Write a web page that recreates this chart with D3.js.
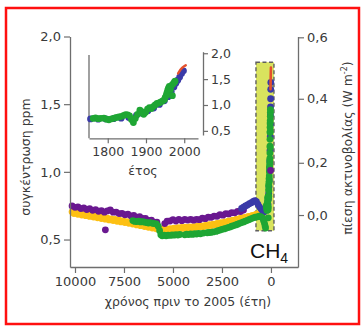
<!DOCTYPE html>
<html>
<head>
<meta charset="utf-8">
<script src="https://cdn.jsdelivr.net/npm/d3@7"></script>
<style>
  html, body { margin: 0; padding: 0; background: #fff; }
  svg { display: block; }
  text { font-family: "DejaVu Sans", Verdana, sans-serif; fill: #3a3a3a; }
</style>
</head>
<body>
<svg id="chart" width="361" height="327"></svg>
<script>
// ---- Data: atmospheric CH4 (ppm). Long record in years before 2005, recent record in calendar years ----
const purpleSeries = [
  [10150,0.748],[10000,0.738],[9850,0.741],[9700,0.729],[9550,0.733],[9400,0.722],[9250,0.728],[9100,0.716],
  [8950,0.721],[8800,0.709],[8650,0.713],[8500,0.702],[8350,0.711],[8200,0.718],[8050,0.702],[7900,0.703],
  [7750,0.692],[7600,0.693],[7450,0.683],[7300,0.687],[7150,0.675],[7000,0.679],[6850,0.666],[6700,0.669],
  [6550,0.656],[6400,0.656],[6250,0.641],[6100,0.644],[5950,0.629],[5820,0.628],[5420,0.618],[5300,0.635],
  [5150,0.637],[5000,0.647],[4850,0.637],[4700,0.648],[4550,0.639],[4400,0.649],[4250,0.644],[4100,0.649],
  [3950,0.643],[3800,0.649],[3650,0.647],[3500,0.658],[3350,0.654],[3200,0.665],[3050,0.664],[2900,0.673],
  [2750,0.672],[2600,0.683],[2450,0.680],[2300,0.691],[2150,0.689],[2000,0.698],[1850,0.697],[1700,0.708],
  [1550,0.707],[1400,0.718]
];
const purpleOutliers = [[8450,0.572],[20,1.01]];

const yellowSeries = [
  [10150,0.705],[10050,0.692],[9950,0.700],[9850,0.686],[9750,0.694],[9650,0.681],[9550,0.689],[9450,0.676],
  [9350,0.684],[9250,0.671],[9150,0.679],[9050,0.666],[8950,0.673],[8850,0.661],[8750,0.668],[8650,0.655],
  [8550,0.663],[8450,0.650],[8350,0.658],[8250,0.645],[8150,0.653],[8050,0.640],[7950,0.648],[7850,0.635],
  [7750,0.643],[7650,0.630],[7550,0.637],[7450,0.625],[7350,0.632],[7250,0.620],[7150,0.627],[7050,0.614],
  [6950,0.621],[6850,0.608],[6750,0.615],[6650,0.602],[6550,0.609],[6450,0.596],[6350,0.603],[6250,0.590],
  [6150,0.597],[6050,0.585],[5950,0.591],[5850,0.579],[5750,0.585],[5650,0.572],[5550,0.578],[5450,0.568],
  [5350,0.576],[5250,0.570],[5150,0.580],[5050,0.574],[4950,0.584],[4850,0.577],[4750,0.587],[4650,0.580],
  [4550,0.589],[4450,0.582],[4350,0.591],[4250,0.584],[4150,0.593],[4050,0.587],[3950,0.596],[3850,0.589],
  [3750,0.598],[3650,0.592],[3550,0.601],[3450,0.595],[3350,0.605],[3250,0.599],[3150,0.609],[3050,0.603],
  [2950,0.614],[2850,0.608],[2750,0.619],[2650,0.614],[2550,0.625],[2450,0.620],[2350,0.631],[2250,0.626],
  [2150,0.637],[2050,0.632],[1950,0.643],[1850,0.639],[1750,0.650],[1650,0.646],[1550,0.657],[1450,0.653],
  [1350,0.664],[1250,0.660],[1150,0.671],[1050,0.668],[950,0.679],[850,0.676],[750,0.687],[650,0.684],
  [550,0.695],[450,0.693]
];

const greenSeries = [
  [7050,0.640],[6950,0.634],[6850,0.633],[6750,0.636],[6650,0.630],[6550,0.632],[6450,0.628],[6350,0.625],
  [6250,0.622],[6150,0.625],[6050,0.620],[5950,0.618],[5850,0.615],[5750,0.598],[5680,0.565],
  [5620,0.535],[5550,0.528],[5450,0.532],[5350,0.527],[5250,0.533],[5150,0.530],[5050,0.535],[4950,0.532],
  [4850,0.536],[4750,0.533],[4650,0.537],[4400,0.535],[4300,0.540],[4200,0.537],[4100,0.542],[4000,0.538],
  [3900,0.543],[3800,0.540],[3700,0.545],[3600,0.542],[3450,0.548],[3250,0.550],[3150,0.552],[3050,0.553],
  [2950,0.556],[2800,0.560],[2700,0.566],[2600,0.570],[2500,0.575],[2400,0.578],[2300,0.583],[2200,0.588],
  [2100,0.592],[2000,0.598],[1900,0.603],[1800,0.608],[1700,0.613],[1600,0.620],[1500,0.625],[1400,0.630],
  [1300,0.636],[1200,0.642],[1100,0.648],[1000,0.655],[900,0.660],[800,0.665],[700,0.668],[600,0.672],
  [500,0.668],[430,0.660],[380,0.640],[330,0.620],[300,0.600],[275,0.585]
];

const blueSeries = [
  [1500,0.730],[1400,0.740],[1300,0.748],[1200,0.755],[1100,0.765],[1000,0.772],[900,0.782],[820,0.788],
  [740,0.780],[660,0.760],[580,0.740],[500,0.725],[420,0.710],[340,0.705]
];

// Recent record, calendar years
const greenRecent = [
  [1762,0.740],[1768,0.752],[1775,0.735],[1782,0.742],[1790,0.748],[1797,0.725],[1803,0.715],[1810,0.732],
  [1817,0.745],[1823,0.760],[1829,0.770],[1836,0.780],[1842,0.800],[1847,0.815],[1852,0.810],[1857,0.790],
  [1862,0.720],[1867,0.660],[1872,0.740],[1878,0.820],[1884,0.900],[1889,0.870],[1894,0.820],[1899,0.860],
  [1904,0.920],[1909,0.950],[1914,0.930],[1919,0.970],[1924,1.000],[1929,1.030],[1934,1.040],[1939,1.060],
  [1944,1.080],[1948,1.100],[1950,1.140],[1953,1.190],[1955,1.240],[1957,1.290],[1959,1.330],[1961,1.360],
  [1964,1.300],[1967,1.380],[1969,1.180],[1971,1.410],[1974,1.440],[1976,1.460]
];
const blueRecent = [
  [1755,0.730],[1775,0.725],[1795,0.730],[1815,0.735],[1835,0.745],[1855,0.760],[1875,0.800],[1890,0.840],
  [1905,0.890],[1920,0.940],[1935,1.010],[1948,1.080],[1958,1.160],[1966,1.260],[1973,1.350],[1978,1.420],
  [1983,1.480],[1988,1.540],[1993,1.610],[1998,1.660]
];
const redRecent = [[1984,1.61],[1990,1.68],[1995,1.72],[2000,1.75],[2004,1.77]];

// Axis ticks
const ageTicks = [10000, 7500, 5000, 2500, 0];
const ppmTicks = [0.5, 1.0, 1.5, 2.0];
const forcingTicks = [0.0, 0.2, 0.4, 0.6];          // W m-2
const forcingPpm = [0.681, 1.067, 1.540, 1.994];     // concentration giving each forcing level
const yearTicks = [1800, 1900, 2000];
const insetPpmTicks = [0.5, 1.0, 1.5, 2.0];

// Industrial-era window, in years before 2005 and ppm
const windowBP = [765, -153];
const windowPpm = [0.565, 1.81];

const colors = {
  purple: "#6a1890",
  yellow: "#fdc013",
  green: "#1fa634",
  blue: "#3a3aa8",
  red: "#e4502c",
  axis: "#6e6e6e"
};

const locale = d3.formatLocale({ decimal: ",", thousands: ".", grouping: [3], currency: ["", ""] });
const fmt1 = locale.format(".1f");
const R = 3.4;

const svg = d3.select("#chart");

// Frame
svg.append("rect")
  .attr("x", 6).attr("y", 8).attr("width", 353).attr("height", 316)
  .attr("fill", "#fff").attr("stroke", "#ff1010").attr("stroke-width", 2.5);

// ---- Main panel ----
const x = d3.scaleLinear().domain([10255, -1380]).range([70, 298]);
const y = d3.scaleLinear().domain([0.297, 2.0]).range([267, 36.5]);
const toBP = d => [2005 - d[0], d[1]];

function styleAxis(g, fontSize) {
  g.select(".domain").attr("stroke", colors.axis).attr("stroke-width", 1.3);
  g.selectAll(".tick line").attr("stroke", colors.axis).attr("stroke-width", 1.2);
  g.selectAll(".tick text").attr("fill", "#3a3a3a")
    .style("font-family", '"DejaVu Sans", Verdana, sans-serif').style("font-size", fontSize + "px");
}

// Highlighted industrial window
svg.append("rect")
  .attr("x", x(windowBP[0])).attr("y", y(windowPpm[1]))
  .attr("width", x(windowBP[1]) - x(windowBP[0]))
  .attr("height", y(windowPpm[0]) - y(windowPpm[1]))
  .attr("fill", "#d9e35e")
  .attr("stroke", "#5f5f5f").attr("stroke-width", 1.4).attr("stroke-dasharray", "4,2.5");

function dots(g, data, xs, ys, color) {
  g.selectAll(null).data(data).enter().append("circle")
    .attr("cx", d => xs(d[0])).attr("cy", d => ys(d[1])).attr("r", R)
    .attr("fill", color);
}

const main = svg.append("g");
dots(main, yellowSeries, x, y, colors.yellow);
dots(main, purpleSeries, x, y, colors.purple);
dots(main, blueSeries.concat(blueRecent.map(toBP)), x, y, colors.blue);
dots(main, greenSeries.concat(greenRecent.map(toBP)), x, y, colors.green);
dots(main, purpleOutliers, x, y, colors.purple);
main.append("path")
  .datum(redRecent.map(toBP))
  .attr("d", d3.line().x(d => x(d[0])).y(d => y(d[1])))
  .attr("fill", "none").attr("stroke", colors.red).attr("stroke-width", 2.6).attr("stroke-linecap", "round");

// Main axes
svg.append("g").attr("transform", "translate(0,267)")
  .call(d3.axisBottom(x).tickValues(ageTicks).tickFormat(d3.format("d")).tickSize(6).tickSizeOuter(0).tickPadding(4))
  .call(g => styleAxis(g, 13));
svg.append("g").attr("transform", "translate(70,0)")
  .call(d3.axisLeft(y).tickValues(ppmTicks).tickFormat(fmt1).tickSize(6).tickSizeOuter(0).tickPadding(3))
  .call(g => styleAxis(g, 13));
svg.append("g").attr("transform", "translate(298,0)")
  .call(d3.axisRight(y).tickValues(forcingPpm).tickFormat((d, i) => fmt1(forcingTicks[i])).tickSize(6).tickSizeOuter(0).tickPadding(3))
  .call(g => styleAxis(g, 13));

// Titles
svg.append("text")
  .attr("transform", "translate(30,157) rotate(-90)")
  .attr("text-anchor", "middle").style("font-size", "12.5px")
  .text("συγκέντρωση ppm");
svg.append("text")
  .attr("x", 188).attr("y", 306)
  .attr("text-anchor", "middle").style("font-size", "12.5px")
  .text("χρόνος πριν το 2005 (έτη)");
const rt = svg.append("text")
  .attr("transform", "translate(352,148) rotate(-90)")
  .attr("text-anchor", "middle").style("font-size", "12.5px");
rt.append("tspan").text("πίεση ακτινοβολίας (W m");
rt.append("tspan").attr("dy", -5).style("font-size", "8px").text("-2");
rt.append("tspan").attr("dy", 5).text(")");

const ch4 = svg.append("text")
  .attr("x", 250).attr("y", 258)
  .style("font-family", '"Liberation Sans", Arial, sans-serif')
  .style("font-size", "21px").style("fill", "#111");
ch4.append("tspan").text("CH");
ch4.append("tspan").attr("dy", 5).style("font-size", "14px").text("4");

// ---- Inset: recent record ----
const ix = d3.scaleLinear().domain([1751, 2036]).range([89, 198]);
const iy = d3.scaleLinear().domain([0.42, 2.03]).range([135, 51.7]);

svg.append("line")
  .attr("x1", 89).attr("x2", 89).attr("y1", 55).attr("y2", 138.3)
  .attr("stroke", colors.axis).attr("stroke-width", 1.3);

const inset = svg.append("g");
dots(inset, blueRecent, ix, iy, colors.blue);
dots(inset, greenRecent, ix, iy, colors.green);
inset.append("path")
  .datum(redRecent)
  .attr("d", d3.line().x(d => ix(d[0])).y(d => iy(d[1])))
  .attr("fill", "none").attr("stroke", colors.red).attr("stroke-width", 2.4).attr("stroke-linecap", "round");

svg.append("g").attr("transform", "translate(0,138.3)")
  .call(d3.axisBottom(ix).tickValues(yearTicks).tickFormat(d3.format("d")).tickSize(5).tickSizeOuter(0).tickPadding(4))
  .call(g => styleAxis(g, 12.5));
svg.append("g").attr("transform", "translate(203,0)")
  .call(d3.axisRight(iy).tickValues(insetPpmTicks).tickFormat(fmt1).tickSize(5).tickSizeOuter(0).tickPadding(3))
  .call(g => styleAxis(g, 12.5));

svg.append("text")
  .attr("x", 143).attr("y", 175)
  .attr("text-anchor", "middle").style("font-size", "12.5px")
  .text("έτος");
</script>
</body>
</html>
